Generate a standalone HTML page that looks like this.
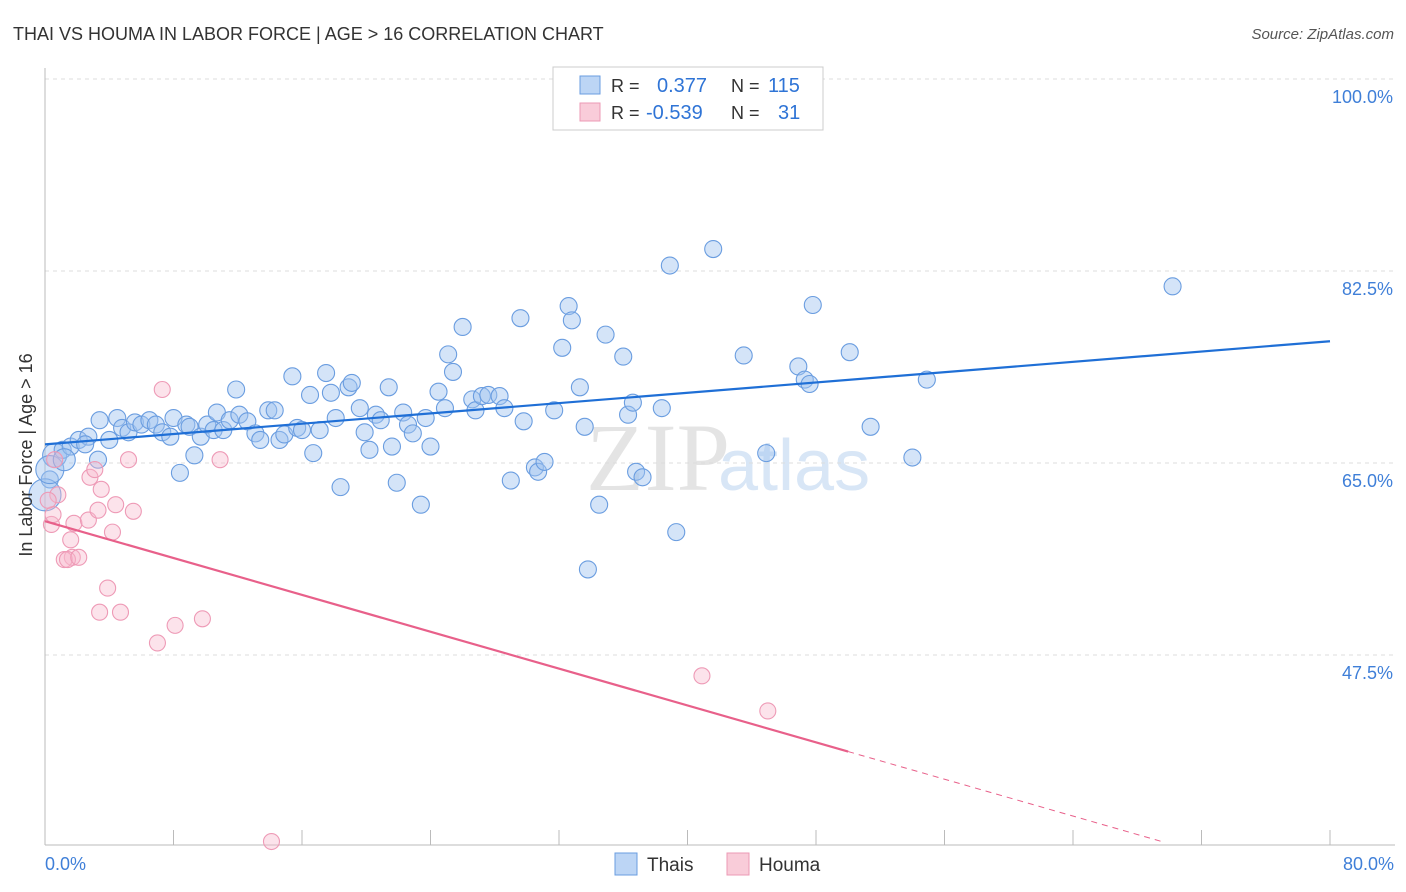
<!DOCTYPE html>
<html><head><meta charset="utf-8"><style>
body{margin:0;background:#fff;font-family:"Liberation Sans",sans-serif;}
svg{display:block}
</style></head><body>
<svg width="1406" height="892" xmlns="http://www.w3.org/2000/svg">
<text x="13" y="40" font-size="18" fill="#333">THAI VS HOUMA IN LABOR FORCE | AGE &gt; 16 CORRELATION CHART</text>
<text x="1394" y="39" font-size="15" fill="#555" font-style="italic" text-anchor="end">Source: ZipAtlas.com</text>
<text x="730" y="490" font-size="96" fill="#e4e4e4" text-anchor="end" font-family="Liberation Serif,serif">ZIP</text>
<text x="718" y="490" font-size="72" fill="#d8e6f6">atlas</text>
<g id="grid"></g>
<g id="axes"></g>
<g id="marks"></g>
<text x="32" y="455" font-size="18" fill="#333" text-anchor="middle" transform="rotate(-90 32 455)">In Labor Force | Age &gt; 16</text>
<text x="45" y="870" font-size="18" fill="#3f7fd8">0.0%</text>
<text x="1394" y="870" font-size="18" fill="#3f7fd8" text-anchor="end">80.0%</text>
<g>
<rect x="553" y="67" width="270" height="63" fill="#fff" stroke="#ccc"/>
<rect x="580" y="76" width="20" height="18" fill="#bcd5f5" stroke="#6a9de0"/>
<rect x="580" y="103" width="20" height="18" fill="#f9ccd9" stroke="#ec9ab5"/>
<text x="611" y="92" font-size="18" fill="#333">R = </text><text x="657" y="92" font-size="20" fill="#2f74d6">0.377</text>
<text x="731" y="92" font-size="18" fill="#333">N = </text><text x="768" y="92" font-size="20" fill="#2f74d6">115</text>
<text x="611" y="119" font-size="18" fill="#333">R = </text><text x="646" y="119" font-size="20" fill="#2f74d6">-0.539</text>
<text x="731" y="119" font-size="18" fill="#333">N = </text><text x="778" y="119" font-size="20" fill="#2f74d6">31</text>
</g>
<g>
<rect x="615" y="853" width="22" height="22" fill="#bcd5f5" stroke="#6a9de0"/>
<text x="647" y="871" font-size="19" fill="#333">Thais</text>
<rect x="727" y="853" width="22" height="22" fill="#f9ccd9" stroke="#ec9ab5"/>
<text x="759" y="871" font-size="19" fill="#333">Houma</text>
</g>
</svg>
<script>
const yTicks=[100,82.5,65,47.5];
const yTickLabels=["100.0%","82.5%","65.0%","47.5%"];
const xTicks=[0,8,16,24,32,40,48,56,64,72,80];
const thaiX=[0.6,1.1,1.6,2.1,2.7,3.4,3.3,4.0,4.5,4.8,5.2,5.6,6.0,6.5,6.9,7.3,7.8,8.0,8.4,8.8,9.0,9.3,9.7,10.1,10.5,10.7,11.1,11.5,11.9,12.1,12.6,13.1,13.4,13.9,14.3,14.6,14.9,15.4,15.7,16.0,16.5,16.7,17.1,17.5,17.8,18.1,18.4,18.9,19.1,19.6,19.9,20.2,20.6,20.9,21.4,21.9,21.6,22.3,22.6,22.9,23.4,23.7,24.0,24.5,24.9,25.1,25.4,26.0,26.6,26.8,27.2,27.6,28.3,28.6,29.0,29.6,29.8,30.5,30.7,31.1,31.7,32.2,32.6,32.8,33.3,33.6,33.8,34.5,34.9,36.0,36.3,36.6,36.8,37.2,38.4,38.9,39.3,41.6,43.5,44.9,46.9,47.3,47.6,47.8,50.1,51.4,54.0,54.9,70.2,0.3,0.0,0.3,1.2,2.5];
const thaiY=[65.7,66.2,66.5,67.1,67.4,68.9,65.3,67.1,69.1,68.2,67.8,68.7,68.5,68.9,68.5,67.8,67.4,69.1,64.1,68.5,68.3,65.7,67.4,68.5,68.0,69.6,68.0,68.9,71.7,69.4,68.8,67.7,67.1,69.8,69.8,67.1,67.6,72.9,68.2,68.0,71.2,65.9,68.0,73.2,71.4,69.1,62.8,71.9,72.3,70.0,67.8,66.2,69.4,68.9,71.9,63.2,66.5,69.6,68.5,67.7,61.2,69.1,66.5,71.5,70.0,74.9,73.3,77.4,70.8,69.8,71.1,71.2,71.1,70.0,63.4,78.2,68.8,64.6,64.2,65.1,69.8,75.5,79.3,78.0,71.9,68.3,55.3,61.2,76.7,74.7,69.4,70.5,64.2,63.7,70.0,83.0,58.7,84.5,74.8,65.9,73.8,72.6,72.2,79.4,75.1,68.3,65.5,72.6,81.1,63.5,62.1,64.4,65.3,66.7];
const houmaX=[0.4,0.5,0.8,1.7,1.2,1.4,2.1,1.8,1.6,2.7,2.8,3.1,3.3,3.5,3.9,3.4,4.4,4.2,4.7,5.2,5.5,7.0,7.3,8.1,9.8,10.9,14.1,40.9,45.0,0.6,0.2];
const houmaY=[59.4,60.3,62.1,56.4,56.2,56.2,56.4,59.5,58.0,59.8,63.7,64.4,60.7,62.6,53.6,51.4,61.2,58.7,51.4,65.3,60.6,48.6,71.7,50.2,50.8,65.3,30.5,45.6,42.4,65.3,61.6];
const thaiTrend=[66.7,76.1];
const houmaTrend=[59.7,-0.42];
const houmaSolidEnd=50;
const houmaDashEnd=69.7;

const X0=45,X1=1330,Y0=79,Y1=655;
const sx=v=>X0+(v/80)*(X1-X0);
const sy=v=>Y0+(100-v)/(100-47.5)*(Y1-Y0);
const NS='http://www.w3.org/2000/svg';
function mk(tag,attrs,parent){const e=document.createElementNS(NS,tag);for(const k in attrs)e.setAttribute(k,attrs[k]);parent.appendChild(e);return e;}
const grid=document.getElementById('grid'),axes=document.getElementById('axes'),marks=document.getElementById('marks');
yTicks.forEach((t,i)=>{
  const l=mk('line',{x1:X0,x2:1395,y1:sy(t),y2:sy(t),stroke:'#ddd','stroke-dasharray':'4,4'},grid);
  
  
  const tx=mk('text',{x:1393,y:sy(t)+24,'font-size':18,fill:'#3f7fd8','text-anchor':'end'},grid);
  tx.textContent=yTickLabels[i];
  
  
});
const ya=mk('line',{x1:X0,x2:X0,y1:68,y2:845,stroke:'#bbb'},axes);


const xa=mk('line',{x1:X0,x2:1395,y1:845,y2:845,stroke:'#bbb'},axes);


xTicks.forEach(t=>{
  const l=mk('line',{x1:sx(t),x2:sx(t),y1:830,y2:845,stroke:'#bbb'},axes);
  
  
});
const big={110:16,111:14,0:12,112:11};
thaiX.forEach((x,i)=>{
  const c=mk('circle',{cx:sx(x),cy:sy(thaiY[i]),r:big[i]||8.5,fill:'rgba(160,196,240,0.45)',stroke:'#6a9de0','stroke-width':1.1},marks);
  
  
});
houmaX.forEach((x,i)=>{
  const c=mk('circle',{cx:sx(x),cy:sy(houmaY[i]),r:8,fill:'rgba(248,185,205,0.4)',stroke:'#ee9ab6','stroke-width':1.1},marks);
  
  
});
const tl=mk('line',{x1:sx(0),y1:sy(thaiTrend[0]),x2:sx(80),y2:sy(thaiTrend[1]),stroke:'#1f6fd6','stroke-width':2.2},marks);


const hy=x=>houmaTrend[0]+houmaTrend[1]*x;
const hl=mk('line',{x1:sx(0),y1:sy(hy(0)),x2:sx(houmaSolidEnd),y2:sy(hy(houmaSolidEnd)),stroke:'#e8608a','stroke-width':2.2},marks);


const hd=mk('line',{x1:sx(houmaSolidEnd),y1:sy(hy(houmaSolidEnd)),x2:sx(houmaDashEnd),y2:sy(hy(houmaDashEnd)),stroke:'#e8608a','stroke-width':1,'stroke-dasharray':'6,5'},marks);


</script>
</body></html>
